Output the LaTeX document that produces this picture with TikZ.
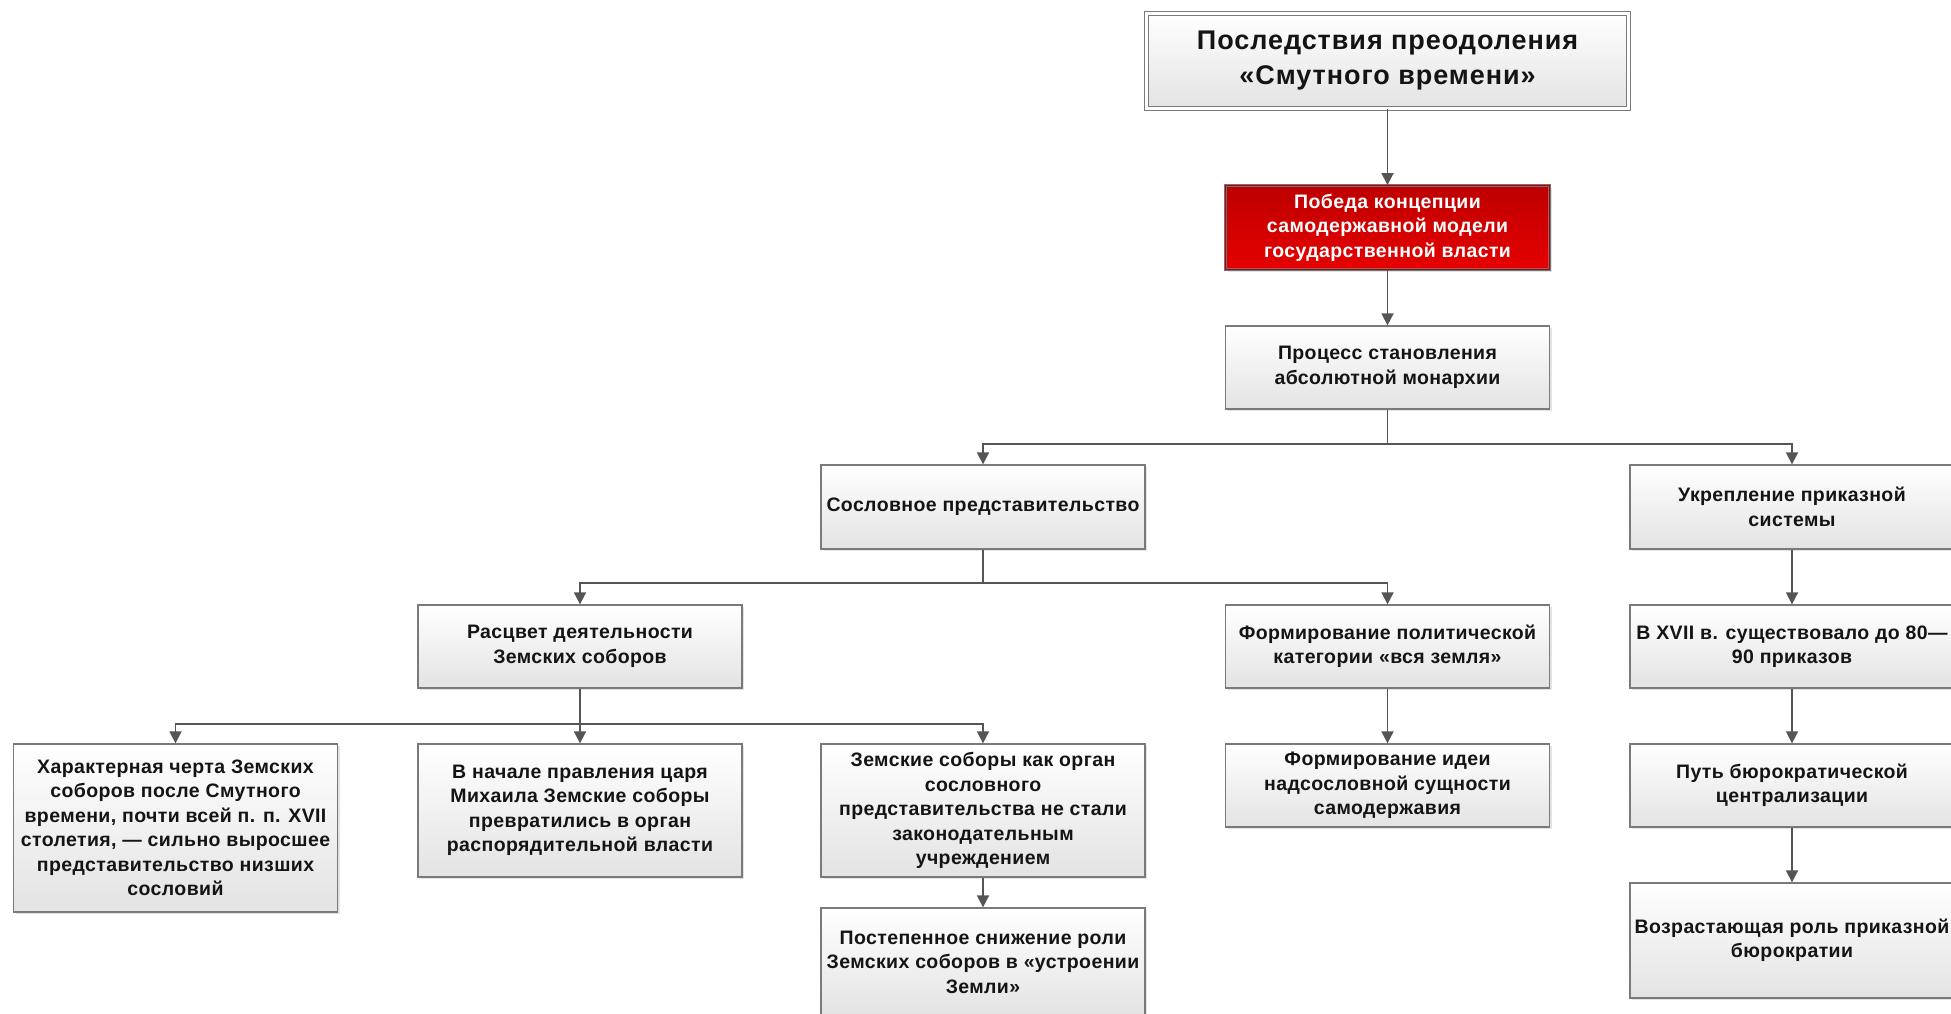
\documentclass[tikz,border=0pt]{standalone}
\usepackage{fontspec}
\setmainfont{Liberation Sans}
\newfontfamily\boxfont[LetterSpace=2]{Liberation Sans}
\newfontfamily\titlefont[LetterSpace=3.5]{Liberation Sans}
\usetikzlibrary{shadows,arrows.meta}
\definecolor{boxline}{HTML}{7A7A7A}
\definecolor{arrline}{HTML}{555555}
\definecolor{redtop}{HTML}{BE0000}
\definecolor{redbot}{HTML}{E60000}
\tikzset{
  box/.style={draw=boxline, line width=1.3pt, top color=white, bottom color=black!11,
    drop shadow={shadow xshift=2pt, shadow yshift=-2pt, opacity=0.22},
    minimum width=324pt, minimum height=84pt, inner sep=0pt, align=center,
    text=black!92, font=\boxfont\bfseries\fontsize{19.5}{24.5}\selectfont},
  titlebox/.style={box, double=white, double distance=2.2pt, line width=1pt,
    minimum width=482pt, minimum height=95pt, font=\titlefont\bfseries\fontsize{27}{35}\selectfont},
  redbox/.style={box, top color=redtop, bottom color=redbot, draw=black!55,
    double=red!70!black, double distance=1.2pt, line width=0.9pt, text=white},
  arr/.style={draw=arrline, line width=1.7pt, -{Triangle[length=12pt,width=12pt]}}
}
\begin{document}
\begin{tikzpicture}[x=1pt,y=-1pt]
  \useasboundingbox (0,0) rectangle (1951,1013);
  \clip (0,0) rectangle (1951,1013);
  \node[titlebox] (top) at (1387.5,61) {Последствия преодоления\\«Смутного времени»};
  \node[redbox, minimum height=84pt] (win) at (1387.5,227.5) {Победа концепции\\самодержавной модели\\государственной власти};
  \node[box, minimum height=83pt] (proc) at (1387.5,367.5) {Процесс становления\\абсолютной монархии};
  \node[box] (sosl) at (983,507) {Сословное представительство};
  \node[box] (ukr) at (1792,507) {Укрепление приказной\\системы};
  \node[box, minimum height=83pt] (rasc) at (580,646.5) {Расцвет деятельности\\Земских соборов};
  \node[box, minimum height=83pt] (vsya) at (1387.5,646.5) {Формирование политической\\категории «вся земля»};
  \node[box, minimum height=83pt] (xvii) at (1792,646.5) {В XVII в. существовало до 80—\\90 приказов};
  \node[box, minimum height=168pt] (cherta) at (175.5,828) {Характерная черта Земских\\соборов после Смутного\\времени, почти всей п. п. XVII\\столетия, — сильно выросшее\\представительство низших\\сословий};
  \node[box, minimum height=133pt] (mih) at (580,810.5) {В начале правления царя\\Михаила Земские соборы\\превратились в орган\\распорядительной власти};
  \node[box, minimum height=133pt] (organ) at (983,810.5) {Земские соборы как орган\\сословного\\представительства не стали\\законодательным\\учреждением};
  \node[box, minimum height=83pt] (ideya) at (1387.5,785.5) {Формирование идеи\\надсословной сущности\\самодержавия};
  \node[box, minimum height=83pt] (put) at (1792,785.5) {Путь бюрократической\\централизации};
  \node[box, minimum height=108pt] (snizh) at (983,962) {Постепенное снижение роли\\Земских соборов в «устроении\\Земли»};
  \node[box, minimum height=115pt] (rol) at (1792,940.5) {Возрастающая роль приказной\\бюрократии};
  \begin{scope}[arr]
    \draw (top) to (win);
    \draw (win) to (proc);
    \draw (proc.south) -- ++(0,34) -| (sosl.north);
    \draw (proc.south) -- ++(0,34) -| (ukr.north);
    \draw (sosl.south) -- ++(0,33) -| (rasc.north);
    \draw (sosl.south) -- ++(0,33) -| (vsya.north);
    \draw (rasc.south) -- ++(0,35) -| (cherta.north);
    \draw (rasc.south) -- ++(0,35) -| (mih.north);
    \draw (rasc.south) -- ++(0,35) -| (organ.north);
    \draw (organ) to (snizh);
    \draw (vsya) to (ideya);
    \draw (ukr) to (xvii);
    \draw (xvii) to (put);
    \draw (put) to (rol);
  \end{scope}
\end{tikzpicture}
\end{document}
